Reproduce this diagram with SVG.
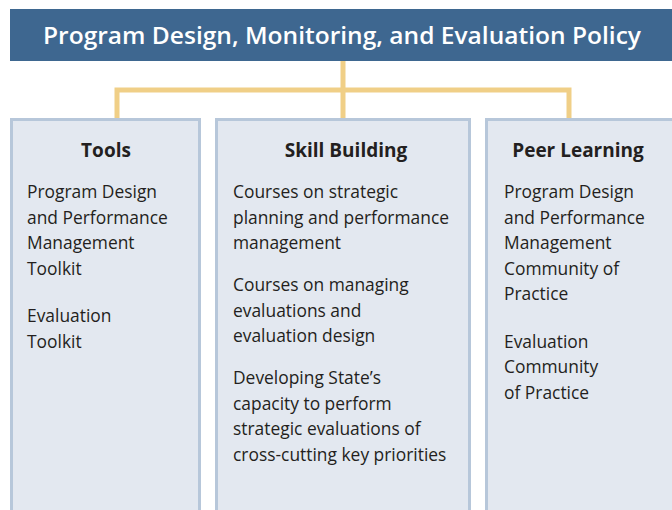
<svg xmlns="http://www.w3.org/2000/svg" width="672" height="510" viewBox="0 0 672 510">
  <style>
    .box { fill: #e3e8f0; stroke: #b7c7da; stroke-width: 3; }
    .bar { fill: #3e6790; }
    .wire { fill: none; stroke: #f0cf87; stroke-width: 5; }
    .title { font-family: "Open Sans", "Noto Sans", sans-serif; font-weight: 600; font-size: 24px; fill: #ffffff; }
    .head { font-family: "Open Sans", "Noto Sans", sans-serif; font-weight: 700; font-size: 19px; fill: #231f20; text-anchor: middle; }
    .body { font-family: "Open Sans", "Noto Sans", sans-serif; font-size: 17.4px; fill: #231f20; }
  </style>
  <rect width="672" height="510" fill="#ffffff"/>

  <g id="connectors">
    <path class="wire" d="M343 61 V118 M117 118 V90 H569 V118"/>
  </g>

  <g id="policy">
    <rect class="bar" x="10" y="9" width="670" height="52"/>
    <text class="title" x="43" y="44" textLength="598" lengthAdjust="spacingAndGlyphs">Program Design, Monitoring, and Evaluation Policy</text>
  </g>

  <g id="tools">
    <rect class="box" x="11.5" y="119.5" width="188" height="400"/>
    <text class="head" x="106" y="157">Tools</text>
    <text class="body">
      <tspan x="27" y="198">Program Design</tspan>
      <tspan x="27" y="224">and Performance</tspan>
      <tspan x="27" y="249">Management</tspan>
      <tspan x="27" y="275">Toolkit</tspan>
      <tspan x="27" y="322">Evaluation</tspan>
      <tspan x="27" y="348">Toolkit</tspan>
    </text>
  </g>

  <g id="skill-building">
    <rect class="box" x="216.5" y="119.5" width="253" height="400"/>
    <text class="head" x="346" y="157">Skill Building</text>
    <text class="body">
      <tspan x="233" y="198">Courses on strategic</tspan>
      <tspan x="233" y="224">planning and performance</tspan>
      <tspan x="233" y="249">management</tspan>
      <tspan x="233" y="291">Courses on managing</tspan>
      <tspan x="233" y="317">evaluations and</tspan>
      <tspan x="233" y="342">evaluation design</tspan>
      <tspan x="233" y="384">Developing State’s</tspan>
      <tspan x="233" y="410">capacity to perform</tspan>
      <tspan x="233" y="435">strategic evaluations of</tspan>
      <tspan x="233" y="461">cross-cutting key priorities</tspan>
    </text>
  </g>

  <g id="peer-learning">
    <rect class="box" x="486.5" y="119.5" width="200" height="400"/>
    <text class="head" x="578" y="157">Peer Learning</text>
    <text class="body">
      <tspan x="504" y="198">Program Design</tspan>
      <tspan x="504" y="224">and Performance</tspan>
      <tspan x="504" y="249">Management</tspan>
      <tspan x="504" y="275">Community of</tspan>
      <tspan x="504" y="300">Practice</tspan>
      <tspan x="504" y="348">Evaluation</tspan>
      <tspan x="504" y="373">Community</tspan>
      <tspan x="504" y="399">of Practice</tspan>
    </text>
  </g>
</svg>
